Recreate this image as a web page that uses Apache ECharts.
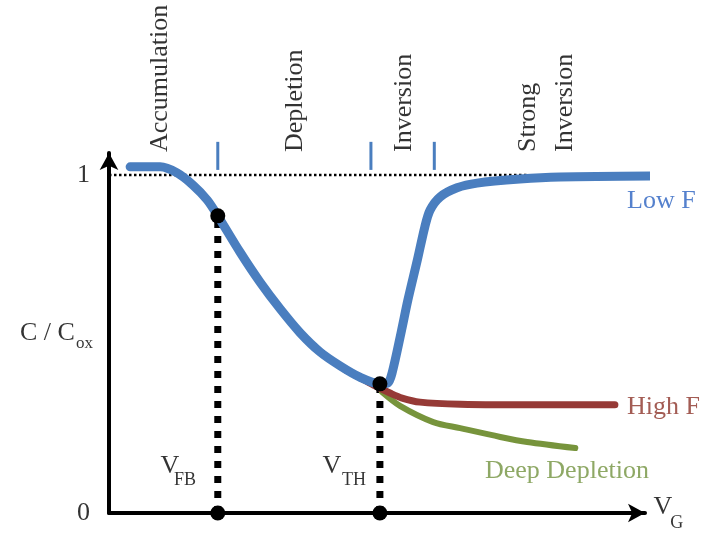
<!DOCTYPE html>
<html lang="en">
<head>
    <meta charset="UTF-8">
    <title>C-V</title>
    <script type="text/javascript" src="https://cdn.jsdelivr.net/npm/echarts@6/dist/echarts.min.js"></script>
    <style>
        html, body {margin: 0; padding: 0; background: #fff;}
        #chart1 {width: 707px; height: 533px;}
    </style>
</head>
<body>
<div id="chart1"></div>
<script type="text/javascript">
    // V_G (arbitrary units) vs C/Cox
    var lowF = [[0.40, 1.024], [0.97, 1.024], [1.29, 1.006], [1.59, 0.970], [1.86, 0.926], [2.06, 0.879],
        [2.48, 0.772], [2.86, 0.683], [3.24, 0.604], [3.62, 0.533], [4.00, 0.476], [4.38, 0.435],
        [4.75, 0.402], [5.13, 0.382], [5.28, 0.385], [5.36, 0.414], [5.53, 0.533], [5.66, 0.630],
        [5.84, 0.749], [5.98, 0.846], [6.08, 0.896], [6.27, 0.935], [6.59, 0.962], [6.97, 0.976],
        [7.78, 0.988], [8.54, 0.994], [10.34, 0.997]];
    var highF = [[4.47, 0.424], [4.75, 0.401], [5.04, 0.376], [5.32, 0.355], [5.55, 0.340], [5.89, 0.328],
        [6.65, 0.322], [8.16, 0.320], [9.58, 0.320]];
    var deepDepletion = [[5.17, 0.358], [5.51, 0.317], [6.14, 0.269], [6.65, 0.251], [7.41, 0.225],
        [7.92, 0.210], [8.83, 0.192]];

    var vFB = [2.06, 0.879];
    var vTH = [5.13, 0.382];
    var oxideLineEnd = 7.94;

    // region boundary marks and names above the plot
    var regionMarks = [2.06, 4.96, 6.16];
    var markSpan = [1.015, 1.098];
    var regionNames = ['Accumulation', 'Depletion', 'Inversion', 'Strong', 'Inversion'];
    var regionPos = [0.97, 3.52, 5.59, 7.94, 8.64];
    var regionBase = 1.068;

    var yTicks = ['0', '1'];

    var font = 'Liberation Serif';

    function txt(x, y, s, opt) {
        var l = {show: true, position: 'inside', formatter: s, fontFamily: font, fontSize: 26,
            color: '#000', align: 'left', verticalAlign: 'middle'};
        for (var k in opt) l[k] = opt[k];
        return {value: [x, y], label: l};
    }

    var texts = [];
    for (var i = 0; i < regionNames.length; i++) {
        texts.push(txt(regionPos[i], regionBase, regionNames[i], {rotate: 90}));
    }
    texts.push(txt(-0.36, 1, yTicks[1], {align: 'right'}));
    texts.push(txt(-0.36, 0, yTicks[0], {align: 'right'}));
    texts.push(txt(-0.645, 0.533, 'C / C', {align: 'right'}));
    texts.push(txt(-0.625, 0.5, 'ox', {fontSize: 17}));
    texts.push(txt(1.155, 0.139, 'V', {align: 'center'}));
    texts.push(txt(1.23, 0.098, 'FB', {fontSize: 18}));
    texts.push(txt(4.22, 0.139, 'V', {align: 'center'}));
    texts.push(txt(4.41, 0.098, 'TH', {fontSize: 18}));
    texts.push(txt(10.49, 0.018, 'V', {align: 'center'}));
    texts.push(txt(10.63, -0.03, 'G', {fontSize: 18}));
    texts.push(txt(9.81, 0.923, 'Low F', {color: '#2a62c0'}));
    texts.push(txt(9.81, 0.312, 'High F', {color: '#8c3329'}));
    texts.push(txt(7.12, 0.124, 'Deep Depletion', {color: '#72923f'}));

    var series = [];

    // C = Cox reference
    series.push({
        type: 'line', symbol: 'none', silent: true, clip: false,
        data: [[0, 1], [oxideLineEnd, 1]],
        lineStyle: {color: '#000', width: 2.5, type: [2.5, 2.5]}
    });

    regionMarks.forEach(function (x) {
        series.push({
            type: 'line', symbol: 'none', silent: true, clip: false,
            data: [[x, markSpan[0]], [x, markSpan[1]]],
            lineStyle: {color: '#4a7ebf', width: 3}
        });
    });

    [vFB, vTH].forEach(function (p) {
        series.push({
            type: 'line', symbol: 'none', silent: true, clip: false,
            data: [[p[0], 0], p],
            lineStyle: {color: '#000', width: 7, type: [7, 8]}
        });
    });

    series.push({
        name: 'Deep Depletion', type: 'line', symbol: 'none', smooth: 0.3, clip: false,
        data: deepDepletion,
        lineStyle: {color: '#77943c', width: 6, cap: 'round'}
    });
    series.push({
        name: 'High F', type: 'line', symbol: 'none', smooth: 0.3, clip: false,
        data: highF,
        lineStyle: {color: '#963a36', width: 7, cap: 'round'}
    });
    series.push({
        name: 'Low F', type: 'line', symbol: 'none', smooth: 0.3, clip: false,
        data: lowF,
        lineStyle: {color: '#4a7ebf', width: 9, cap: 'round'}
    });

    series.push({
        type: 'scatter', symbol: 'circle', symbolSize: 15, clip: false, z: 5,
        itemStyle: {color: '#000', opacity: 1},
        data: [vFB, vTH, [vFB[0], 0], [vTH[0], 0]]
    });

    series.push({
        type: 'scatter', symbolSize: 0, clip: false, z: 6, silent: true,
        data: texts
    });

    var axisBase = {
        axisLine: {show: true, onZero: false, symbol: ['none', 'arrow'], symbolSize: [14, 17],
            lineStyle: {color: '#000', width: 4}},
        axisTick: {show: false},
        axisLabel: {show: false},
        splitLine: {show: false}
    };

    var myChart = echarts.init(document.getElementById('chart1'));
    var option = {
        animation: false,
        grid: {left: 109, right: 62, top: 153, bottom: 20, containLabel: false},
        xAxis: Object.assign({type: 'value', min: 0, max: 10.15}, axisBase),
        yAxis: Object.assign({type: 'value', min: 0, max: 1.065}, axisBase),
        series: series
    };
    myChart.setOption(option);
</script>
</body>
</html>
